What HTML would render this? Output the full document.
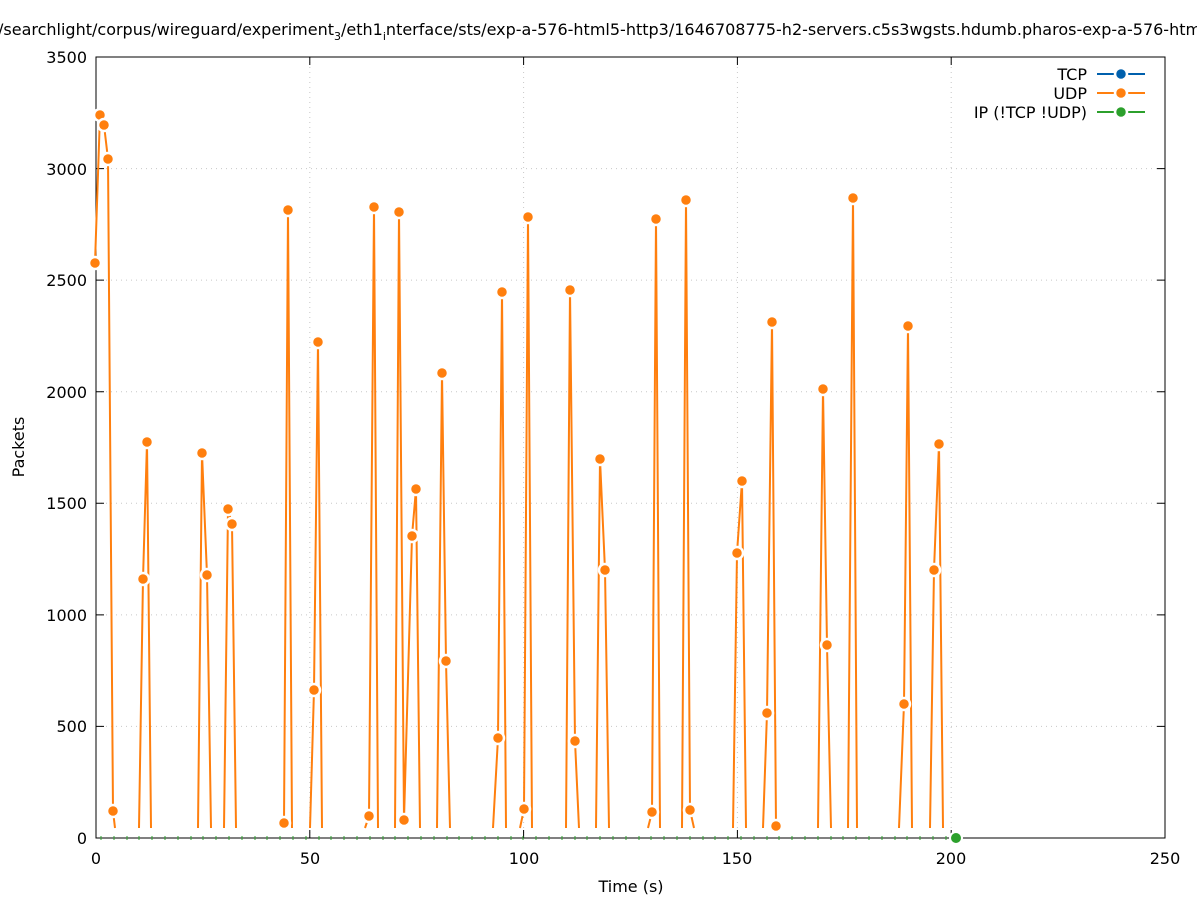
<!DOCTYPE html>
<html><head><meta charset="utf-8"><style>body{margin:0;background:#fff}svg{display:block;font-family:"DejaVu Sans","Liberation Sans",sans-serif}</style></head><body>
<svg width="1197" height="900" viewBox="0 0 1197 900" xmlns="http://www.w3.org/2000/svg">
<rect width="1197" height="900" fill="#fff"/>
<text x="-2" y="35" font-size="16">/searchlight/corpus/wireguard/experiment<tspan font-size="11" dy="5">3</tspan><tspan dy="-5">/eth1</tspan><tspan font-size="11" dy="5">i</tspan><tspan dy="-5">nterface/sts/exp-a-576-html5-http3/1646708775-h2-servers.c5s3wgsts.hdumb.pharos-exp-a-576-html5-http3</tspan></text>
<g stroke="#c8c8c8" stroke-dasharray="1,4" stroke-width="1">
<line x1="96" y1="726.4" x2="1165" y2="726.4"/><line x1="96" y1="614.9" x2="1165" y2="614.9"/><line x1="96" y1="503.3" x2="1165" y2="503.3"/><line x1="96" y1="391.7" x2="1165" y2="391.7"/><line x1="96" y1="280.1" x2="1165" y2="280.1"/><line x1="96" y1="168.6" x2="1165" y2="168.6"/><line x1="96" y1="57" x2="1165" y2="57"/>
<line x1="309.8" y1="57" x2="309.8" y2="838"/><line x1="523.6" y1="57" x2="523.6" y2="838"/><line x1="737.4" y1="57" x2="737.4" y2="838"/><line x1="951.2" y1="57" x2="951.2" y2="838"/>
</g>
<g stroke="#000" stroke-width="1">
<rect x="96" y="57" width="1069" height="781" fill="none"/>
<path d="M96 726.4h8M96 614.9h8M96 503.3h8M96 391.7h8M96 280.1h8M96 168.6h8M1165 726.4h-8M1165 614.9h-8M1165 503.3h-8M1165 391.7h-8M1165 280.1h-8M1165 168.6h-8M309.8 838v-8M523.6 838v-8M737.4 838v-8M951.2 838v-8M309.8 57v8M523.6 57v8M737.4 57v8M951.2 57v8"/>
</g>
<g font-size="16" text-anchor="end">
<text x="87" y="844">0</text><text x="87" y="732">500</text><text x="87" y="621">1000</text><text x="87" y="509">1500</text><text x="87" y="398">2000</text><text x="87" y="286">2500</text><text x="87" y="175">3000</text><text x="87" y="63">3500</text>
</g>
<g font-size="16" text-anchor="middle">
<text x="96" y="864">0</text><text x="310" y="864">50</text><text x="524" y="864">100</text><text x="737" y="864">150</text><text x="951" y="864">200</text><text x="1165" y="864">250</text>
<text x="631" y="892">Time (s)</text>
<text transform="translate(24,447) rotate(-90)">Packets</text>
</g>
<g stroke="#2ca02c" stroke-width="1">
<path d="M101 836v4M114 836v4M127 836v4M139 836v4M152 836v4M165 836v4M178 836v4M191 836v4M203 836v4M216 836v4M229 836v4M242 836v4M255 836v4M267 836v4M280 836v4M293 836v4M306 836v4M319 836v4M331 836v4M344 836v4M357 836v4M370 836v4M383 836v4M395 836v4M408 836v4M421 836v4M434 836v4M447 836v4M459 836v4M472 836v4M485 836v4M498 836v4M511 836v4M523 836v4M536 836v4M549 836v4M562 836v4M575 836v4M587 836v4M600 836v4M613 836v4M626 836v4M639 836v4M651 836v4M664 836v4M677 836v4M690 836v4M703 836v4M715 836v4M728 836v4M741 836v4M754 836v4M767 836v4M779 836v4M792 836v4M805 836v4M818 836v4M831 836v4M843 836v4M856 836v4M869 836v4M882 836v4M895 836v4M907 836v4M920 836v4M933 836v4M946 836v4"/>
</g>
<g fill="none" stroke="#ff7f0e" stroke-width="2" stroke-linejoin="round">
<polyline points="95,263 100,115 104,125 108,159 113,811 115,828"/>
<polyline points="139,828 143,579 147,442 151,828"/>
<polyline points="198,828 202,453 207,575 211,828"/>
<polyline points="224,828 228,509 232,524 236,828"/>
<polyline points="280,828 284,823 288,210 292,828"/>
<polyline points="310,828 314,690 318,342 322,828"/>
<polyline points="365,828 369,816 374,207 378,828"/>
<polyline points="395,828 399,212 404,820 412,536 416,489 420,828"/>
<polyline points="437,828 442,373 446,661 450,828"/>
<polyline points="493,828 498,738 502,292 506,828"/>
<polyline points="520,828 524,809 528,217 532,828"/>
<polyline points="566,828 570,290 575,741 579,828"/>
<polyline points="596,828 600,459 605,570 609,828"/>
<polyline points="648,828 652,812 656,219 660,828"/>
<polyline points="682,828 686,200 690,810 694,828"/>
<polyline points="733,828 737,553 742,481 746,828"/>
<polyline points="763,828 767,713 772,322 776,826 778,828"/>
<polyline points="818,828 823,389 827,645 831,828"/>
<polyline points="848,828 853,198 857,828"/>
<polyline points="899,828 904,704 908,326 912,828"/>
<polyline points="930,828 934,570 939,444 943,828"/>
</g>
<g fill="#ff7f0e" stroke="#fff" stroke-width="2.5">
<circle cx="95" cy="263" r="6"/><circle cx="100" cy="115" r="6"/><circle cx="104" cy="125" r="6"/><circle cx="108" cy="159" r="6"/><circle cx="113" cy="811" r="6"/>
<circle cx="143" cy="579" r="6"/><circle cx="147" cy="442" r="6"/><circle cx="202" cy="453" r="6"/><circle cx="207" cy="575" r="6"/><circle cx="228" cy="509" r="6"/><circle cx="232" cy="524" r="6"/>
<circle cx="284" cy="823" r="6"/><circle cx="288" cy="210" r="6"/><circle cx="314" cy="690" r="6"/><circle cx="318" cy="342" r="6"/><circle cx="369" cy="816" r="6"/><circle cx="374" cy="207" r="6"/>
<circle cx="399" cy="212" r="6"/><circle cx="404" cy="820" r="6"/><circle cx="412" cy="536" r="6"/><circle cx="416" cy="489" r="6"/><circle cx="442" cy="373" r="6"/><circle cx="446" cy="661" r="6"/>
<circle cx="498" cy="738" r="6"/><circle cx="502" cy="292" r="6"/><circle cx="524" cy="809" r="6"/><circle cx="528" cy="217" r="6"/><circle cx="570" cy="290" r="6"/><circle cx="575" cy="741" r="6"/>
<circle cx="600" cy="459" r="6"/><circle cx="605" cy="570" r="6"/><circle cx="652" cy="812" r="6"/><circle cx="656" cy="219" r="6"/><circle cx="686" cy="200" r="6"/><circle cx="690" cy="810" r="6"/>
<circle cx="737" cy="553" r="6"/><circle cx="742" cy="481" r="6"/><circle cx="767" cy="713" r="6"/><circle cx="772" cy="322" r="6"/><circle cx="776" cy="826" r="6"/>
<circle cx="823" cy="389" r="6"/><circle cx="827" cy="645" r="6"/><circle cx="853" cy="198" r="6"/><circle cx="904" cy="704" r="6"/><circle cx="908" cy="326" r="6"/><circle cx="934" cy="570" r="6"/><circle cx="939" cy="444" r="6"/>
</g>
<circle cx="956" cy="838" r="6" fill="#2ca02c" stroke="#fff" stroke-width="2"/>
<g font-size="16" text-anchor="end">
<text x="1087" y="80">TCP</text><text x="1087" y="99">UDP</text><text x="1087" y="118">IP (!TCP  !UDP)</text>
</g>
<g stroke-width="2">
<line x1="1097" y1="74" x2="1145" y2="74" stroke="#0060ad"/><line x1="1097" y1="93" x2="1145" y2="93" stroke="#ff7f0e"/><line x1="1097" y1="112" x2="1145" y2="112" stroke="#2ca02c"/>
</g>
<g stroke="#fff" stroke-width="2.5">
<circle cx="1121" cy="74" r="6" fill="#0060ad"/><circle cx="1121" cy="93" r="6" fill="#ff7f0e"/><circle cx="1121" cy="112" r="6" fill="#2ca02c"/>
</g>
</svg>
</body></html>
